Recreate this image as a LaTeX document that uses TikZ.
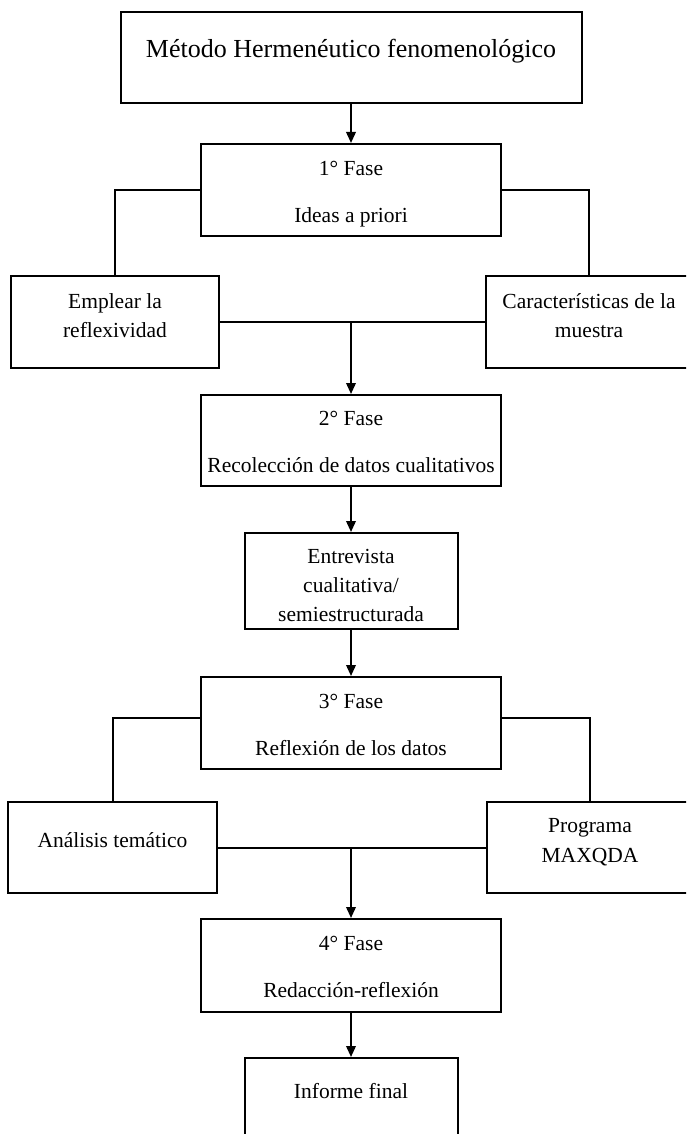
\documentclass[tikz,border=0pt]{standalone}
\usepackage{fontspec}
\setmainfont{Liberation Serif}
\usetikzlibrary{arrows.meta}
\begin{document}
\begin{tikzpicture}[x=1pt,y=-1pt,
  box/.style={draw, line width=2pt, inner sep=0pt, align=center,
    font=\fontsize{21.5}{29}\selectfont},
  fase/.style={box, minimum width=300pt, minimum height=92pt,
    font=\fontsize{21.5}{47}\selectfont, text height=66pt, text depth=2pt},
  twoline/.style={text height=44pt, text depth=14pt},
  oneline/.style={text height=15pt, text depth=15pt},
  conn/.style={line width=2pt},
  arr/.style={conn, -{Triangle[length=11pt,width=9.5pt]}}]
\useasboundingbox (0,0) rectangle (686,1134);
\clip (0,0) rectangle (686,1134);

\node[box, minimum width=461pt, minimum height=91pt,
  font=\fontsize{26}{30}\selectfont, text height=18pt, text depth=18pt]
  (met) at (351,57.5) {Método Hermenéutico fenomenológico};

\node[fase] (f1) at (351,190) {1° Fase\\Ideas a priori};

\node[box, twoline, minimum width=208pt, minimum height=92pt]
  (emp) at (115,322) {Emplear la\\reflexividad};
\node[box, twoline, minimum width=206pt, minimum height=92pt]
  (car) at (589,322) {Características de la\\muestra};

\node[fase, minimum height=91pt] (f2) at (351,440.5) {2° Fase\\Recolección de datos cualitativos};

\node[box, minimum width=213pt, minimum height=96pt, text height=84pt, text depth=4pt]
  (ent) at (351,581) {Entrevista\\cualitativa/\\semiestructurada};

\node[fase] (f3) at (351,723) {3° Fase\\Reflexión de los datos};

\node[box, oneline, minimum width=209pt, minimum height=91pt]
  (ana) at (112.5,847.5) {Análisis temático};
\node[box, minimum width=206pt, minimum height=91pt, text height=45pt, text depth=16pt,
  font=\fontsize{21.5}{30}\selectfont]
  (pro) at (590,847.5) {Programa\\MAXQDA};

\node[fase, minimum height=93pt] (f4) at (351,965.5) {4° Fase\\Redacción-reflexión};

\node[box, oneline, minimum width=213pt, minimum height=80pt]
  (inf) at (351,1098) {Informe final};

% connectors
\draw[arr] (met.south) -- (f1.north);
\draw[conn] (f1.west) -| (emp.north);
\draw[conn] (f1.east) -| (car.north);
\draw[conn] (emp.east) -- (car.west);
\coordinate (j1) at (f2.north |- emp.east);
\draw[arr] (j1) -- (f2.north);
\draw[arr] (f2.south) -- (ent.north);
\draw[arr] (ent.south) -- (f3.north);
\draw[conn] ([yshift=5pt]f3.west) -| (ana.north);
\draw[conn] ([yshift=5pt]f3.east) -| (pro.north);
\draw[conn] (ana.east) -- (pro.west);
\coordinate (j2) at (f4.north |- ana.east);
\draw[arr] (j2) -- (f4.north);
\draw[arr] (f4.south) -- (inf.north);
\end{tikzpicture}
\end{document}
